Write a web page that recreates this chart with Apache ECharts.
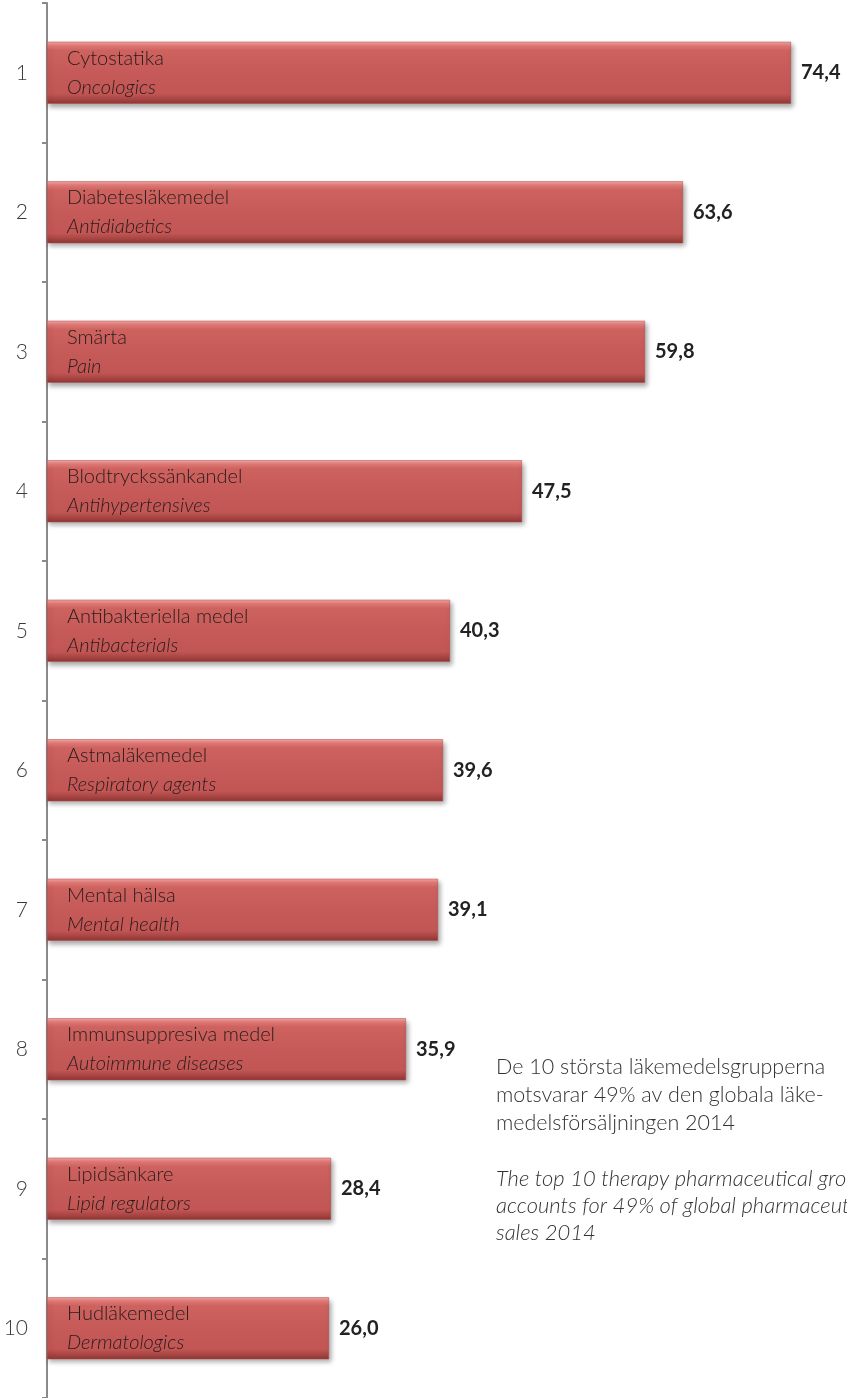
<!DOCTYPE html>
<html>
<head>
<meta charset="utf-8">
<script src="https://cdn.jsdelivr.net/npm/echarts@6/dist/echarts.min.js"></script>
<style>
html,body{margin:0;padding:0;background:#fff;}
#chart{width:847px;height:1398px;}
</style>
</head>
<body>
<div id="chart"></div>
<script>
const ranks = ['1','2','3','4','5','6','7','8','9','10'];
const namesSv = ['Cytostatika','Diabetesläkemedel','Smärta','Blodtryckssänkandel','Antibakteriella medel','Astmaläkemedel','Mental hälsa','Immunsuppresiva medel','Lipidsänkare','Hudläkemedel'];
const namesEn = ['Oncologics','Antidiabetics','Pain','Antihypertensives','Antibacterials','Respiratory agents','Mental health','Autoimmune diseases','Lipid regulators','Dermatologics'];
// bar lengths as drawn in the picture
const barLengths = [74.4, 63.6, 59.8, 47.5, 40.3, 39.6, 39.1, 35.9, 28.4, 28.2];
// value labels as printed
const valueLabels = ['74,4','63,6','59,8','47,5','40,3','39,6','39,1','35,9','28,4','26,0'];
const noteSv = ['De 10 största läkemedelsgrupperna','motsvarar 49% av den globala läke-','medelsförsäljningen 2014'];
const noteEn = ['The top 10 therapy pharmaceutical groups','accounts for 49% of global pharmaceutical','sales 2014'];

const FONT = 'Lato';
const chart = echarts.init(document.getElementById('chart'), null, {renderer:'canvas'});

const barFill = new echarts.graphic.LinearGradient(0,0,0,1,[
  {offset:0, color:'#f2a9a7'},
  {offset:0.06, color:'#e57c79'},
  {offset:0.14, color:'#cd625f'},
  {offset:0.5, color:'#c65a58'},
  {offset:0.84, color:'#c25654'},
  {offset:0.92, color:'#a94644'},
  {offset:1, color:'#8e3634'}
]);

chart.setOption({
  animation:false,
  grid:{left:47, right:0, top:3, height:1400, containLabel:false},
  xAxis:{type:'value', min:0, max:80, show:false},
  yAxis:{
    type:'category', inverse:true, data:ranks,
    axisLine:{show:true, lineStyle:{color:'#8a8a8a', width:2}},
    axisTick:{show:true, length:5, lineStyle:{color:'#8a8a8a', width:2}},
    axisLabel:{fontFamily:FONT, fontWeight:300, fontSize:21, color:'#3a3a3a', margin:19}
  },
  series:[
    {
      type:'bar', data:barLengths, barWidth:62, z:3,
      itemStyle:{color:barFill, borderColor:'#b14b49', borderWidth:0.5,
        shadowColor:'rgba(0,0,0,0.35)', shadowBlur:5, shadowOffsetX:2, shadowOffsetY:3},
      label:{
        show:true, position:'insideLeft', distance:20,
        formatter:p => '{a|'+namesSv[p.dataIndex]+'}\n{b|'+namesEn[p.dataIndex]+'}',
        rich:{
          a:{fontFamily:FONT, fontWeight:300, fontSize:20, color:'#261c1c', lineHeight:29},
          b:{fontFamily:FONT, fontWeight:300, fontStyle:'italic', fontSize:20, color:'#261c1c', lineHeight:29}
        }
      }
    },
    {
      type:'bar', data:barLengths, barWidth:62, barGap:'-100%', z:2,
      itemStyle:{color:'rgba(0,0,0,0)'},
      label:{
        show:true, position:'right', distance:10,
        formatter:p => valueLabels[p.dataIndex],
        fontFamily:FONT, fontWeight:'bold', fontSize:20, color:'#222'
      }
    }
  ],
  graphic:[
    {type:'text', left:496, top:1053, style:{text:noteSv.join('\n'), font:'300 21.5px '+FONT, fill:'#333', lineHeight:28}},
    {type:'text', left:496, top:1165, style:{text:noteEn.join('\n'), font:'italic 300 22px '+FONT, fill:'#333', lineHeight:27}}
  ]
});
</script>
</body>
</html>
